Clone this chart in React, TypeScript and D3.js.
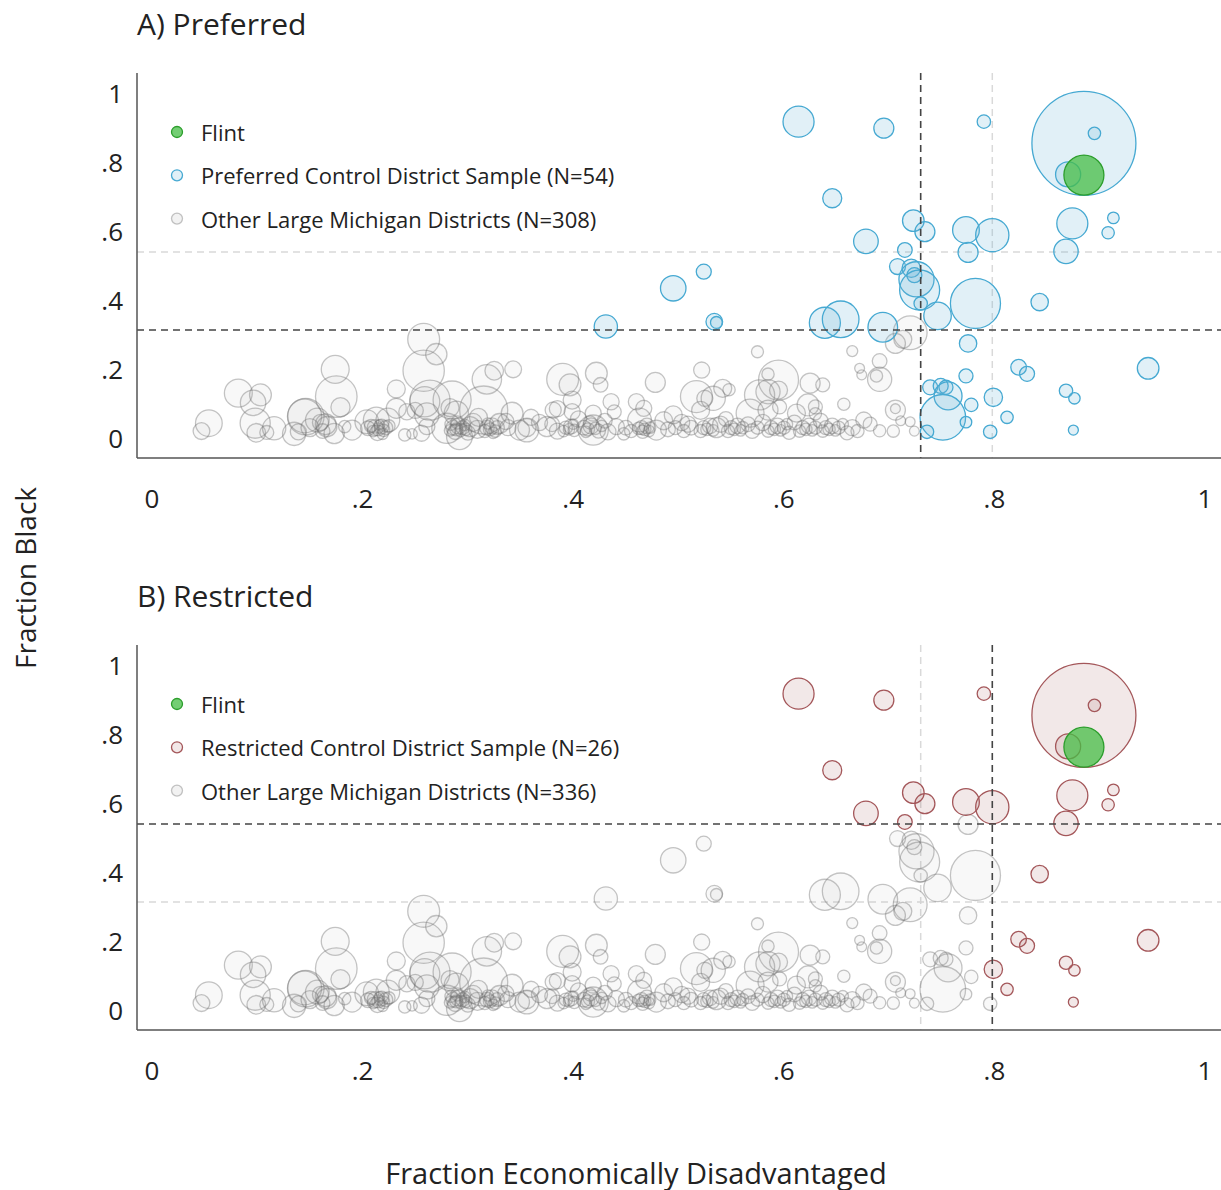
import React from "react";
import * as d3 from "d3";

// [fraction economically disadvantaged, fraction black, enrollment (thousands)]
const flint: [number, number, number][] = [[0.885, 0.762, 7.4]];

// in both the preferred and the restricted control samples (N=26)
const preferredRestricted: [number, number, number][] = [
  [0.614, 0.917, 4.45], [0.695, 0.898, 1.85], [0.79, 0.917, 0.83], [0.885, 0.854, 50],
  [0.895, 0.883, 0.71], [0.87, 0.764, 2.9], [0.646, 0.695, 1.67], [0.723, 0.63, 2.16],
  [0.734, 0.598, 1.85], [0.678, 0.57, 2.8], [0.773, 0.603, 3.3], [0.798, 0.588, 5.1],
  [0.874, 0.622, 4.45], [0.913, 0.638, 0.62], [0.908, 0.595, 0.71], [0.868, 0.541, 2.75],
  [0.715, 0.545, 0.99], [0.843, 0.394, 1.4], [0.823, 0.205, 1.13], [0.831, 0.186, 1.04],
  [0.946, 0.202, 2.16], [0.799, 0.118, 1.56], [0.812, 0.06, 0.71], [0.868, 0.137, 0.83],
  [0.876, 0.115, 0.6], [0.875, 0.023, 0.46],
];

// in the preferred sample only (gray in the restricted panel)
const preferredOnly: [number, number, number][] = [
  [0.775, 0.538, 1.85], [0.524, 0.482, 1.04], [0.495, 0.434, 3.0], [0.708, 0.497, 1.18],
  [0.721, 0.492, 1.56], [0.726, 0.46, 5.7], [0.724, 0.472, 1.04], [0.729, 0.429, 7.4],
  [0.73, 0.39, 0.83], [0.746, 0.354, 3.5], [0.782, 0.39, 11.6], [0.431, 0.323, 2.5],
  [0.534, 0.337, 1.28], [0.536, 0.335, 0.65], [0.639, 0.334, 4.45], [0.654, 0.344, 6.2],
  [0.694, 0.321, 4.06], [0.775, 0.274, 1.4], [0.773, 0.18, 0.91], [0.739, 0.147, 1.04],
  [0.749, 0.151, 1.04], [0.754, 0.147, 0.91], [0.756, 0.122, 3.6], [0.751, 0.06, 9.6],
  [0.778, 0.096, 0.83], [0.773, 0.046, 0.62], [0.796, 0.018, 0.83], [0.736, 0.018, 0.83],
];

// other large Michigan districts
const otherDistricts: [number, number, number][] = [
  [0.054, 0.043, 3.3], [0.047, 0.02, 1.3], [0.082, 0.13, 3.6], [0.103, 0.125, 2.2],
  [0.096, 0.102, 3.0], [0.098, 0.043, 4.2], [0.099, 0.015, 1.6], [0.109, 0.016, 0.9],
  [0.116, 0.028, 2.5], [0.135, 0.012, 2.5], [0.139, 0.018, 1.2], [0.146, 0.062, 6.2],
  [0.145, 0.064, 5.3], [0.166, 0.033, 1.9], [0.173, 0.013, 1.9], [0.15, 0.03, 1.5],
  [0.16, 0.045, 1.2], [0.162, 0.02, 1.0], [0.157, 0.052, 2.6], [0.165, 0.04, 2.0],
  [0.174, 0.199, 3.6], [0.175, 0.12, 8.0], [0.179, 0.089, 1.7], [0.183, 0.033, 0.7],
  [0.19, 0.023, 1.85], [0.204, 0.047, 2.6], [0.213, 0.052, 3.1], [0.224, 0.052, 2.6],
  [0.212, 0.03, 1.2], [0.215, 0.025, 0.8], [0.218, 0.033, 1.0], [0.21, 0.02, 0.6],
  [0.22, 0.022, 0.7], [0.216, 0.038, 0.5], [0.222, 0.03, 0.9], [0.208, 0.035, 0.8],
  [0.214, 0.015, 1.1], [0.219, 0.012, 0.6], [0.225, 0.035, 0.7], [0.205, 0.028, 1.0],
  [0.232, 0.142, 1.5], [0.232, 0.086, 1.85], [0.242, 0.076, 1.2], [0.24, 0.009, 0.7],
  [0.247, 0.012, 0.5], [0.256, 0.014, 1.2], [0.261, 0.033, 1.2], [0.258, 0.286, 4.7],
  [0.27, 0.243, 2.1], [0.258, 0.195, 7.9], [0.264, 0.11, 7.4], [0.259, 0.105, 4.2],
  [0.285, 0.11, 6.7], [0.261, 0.067, 2.7], [0.28, 0.028, 4.2], [0.286, 0.03, 1.0],
  [0.289, 0.025, 0.8], [0.291, 0.035, 1.2], [0.293, 0.02, 0.6], [0.284, 0.04, 0.7],
  [0.295, 0.03, 0.9], [0.288, 0.018, 1.1], [0.297, 0.038, 0.6], [0.29, 0.045, 0.8],
  [0.283, 0.022, 0.6], [0.298, 0.025, 0.7], [0.292, 0.004, 3.1], [0.289, 0.072, 2.7],
  [0.302, 0.033, 1.85], [0.309, 0.025, 1.5], [0.315, 0.081, 10.7], [0.318, 0.17, 4.0],
  [0.325, 0.195, 1.6], [0.343, 0.199, 1.3], [0.318, 0.03, 1.0], [0.321, 0.025, 0.8],
  [0.323, 0.035, 1.2], [0.326, 0.02, 0.7], [0.319, 0.042, 0.6], [0.328, 0.03, 0.9],
  [0.324, 0.015, 0.6], [0.316, 0.02, 0.8], [0.33, 0.042, 1.85], [0.342, 0.072, 2.2],
  [0.349, 0.023, 1.85], [0.356, 0.03, 1.5], [0.338, 0.03, 1.2], [0.31, 0.06, 1.5],
  [0.3, 0.015, 1.0], [0.25, 0.08, 1.2], [0.283, 0.088, 1.5], [0.305, 0.045, 1.5],
  [0.336, 0.048, 1.2], [0.39, 0.17, 4.7], [0.397, 0.154, 2.2], [0.422, 0.188, 2.2],
  [0.426, 0.154, 1.0], [0.399, 0.11, 1.5], [0.436, 0.105, 1.2], [0.439, 0.076, 0.9],
  [0.381, 0.081, 1.2], [0.385, 0.085, 1.2], [0.399, 0.076, 1.2], [0.419, 0.072, 1.2],
  [0.419, 0.023, 4.2], [0.41, 0.03, 1.0], [0.414, 0.025, 0.8], [0.417, 0.035, 1.2],
  [0.421, 0.028, 0.7], [0.424, 0.02, 0.9], [0.412, 0.018, 0.6], [0.427, 0.035, 0.6],
  [0.416, 0.045, 0.8], [0.393, 0.03, 0.8], [0.396, 0.025, 0.6], [0.398, 0.033, 1.0],
  [0.401, 0.022, 0.7], [0.391, 0.02, 0.6], [0.4, 0.04, 0.5], [0.375, 0.033, 1.85],
  [0.368, 0.045, 1.2], [0.356, 0.023, 2.6], [0.433, 0.018, 1.2], [0.441, 0.033, 1.2],
  [0.448, 0.012, 0.7], [0.46, 0.105, 1.2], [0.467, 0.086, 1.2], [0.478, 0.161, 1.85],
  [0.463, 0.052, 2.6], [0.465, 0.03, 0.9], [0.468, 0.025, 0.7], [0.47, 0.035, 1.1],
  [0.472, 0.02, 0.6], [0.466, 0.018, 0.8], [0.473, 0.03, 0.6], [0.462, 0.028, 0.7],
  [0.479, 0.023, 1.85], [0.486, 0.05, 1.5], [0.495, 0.067, 1.5], [0.503, 0.045, 1.2],
  [0.509, 0.04, 1.2], [0.517, 0.12, 4.7], [0.525, 0.115, 1.2], [0.522, 0.197, 1.2],
  [0.524, 0.03, 0.9], [0.527, 0.025, 0.7], [0.53, 0.035, 1.1], [0.533, 0.022, 0.6],
  [0.521, 0.02, 0.8], [0.536, 0.03, 1.85], [0.521, 0.08, 1.5], [0.38, 0.04, 1.0],
  [0.385, 0.02, 1.2], [0.45, 0.03, 1.0], [0.455, 0.02, 0.8], [0.49, 0.025, 1.0],
  [0.497, 0.03, 0.9], [0.505, 0.02, 0.8], [0.512, 0.03, 1.0], [0.36, 0.06, 1.2],
  [0.405, 0.055, 1.2], [0.43, 0.05, 1.0], [0.575, 0.25, 0.67], [0.665, 0.252, 0.56],
  [0.691, 0.223, 1.0], [0.672, 0.202, 0.45], [0.674, 0.183, 0.45], [0.691, 0.17, 2.7],
  [0.688, 0.18, 0.7], [0.72, 0.305, 5.3], [0.713, 0.286, 1.5], [0.706, 0.274, 1.85],
  [0.595, 0.168, 7.4], [0.585, 0.185, 0.7], [0.577, 0.125, 4.2], [0.585, 0.134, 2.7],
  [0.595, 0.139, 1.5], [0.625, 0.159, 1.85], [0.637, 0.154, 0.9], [0.542, 0.144, 1.5],
  [0.548, 0.14, 0.7], [0.533, 0.115, 2.7], [0.568, 0.072, 3.6], [0.585, 0.081, 1.85],
  [0.596, 0.09, 0.9], [0.612, 0.072, 1.5], [0.623, 0.096, 2.2], [0.63, 0.09, 0.9],
  [0.63, 0.07, 0.7], [0.657, 0.098, 0.7], [0.676, 0.052, 1.2], [0.682, 0.04, 0.9],
  [0.691, 0.021, 0.7], [0.704, 0.02, 0.7], [0.706, 0.081, 1.85], [0.706, 0.085, 0.45],
  [0.711, 0.05, 0.45], [0.72, 0.047, 0.45], [0.724, 0.02, 0.45], [0.55, 0.03, 0.9],
  [0.553, 0.025, 0.7], [0.556, 0.035, 1.1], [0.559, 0.022, 0.6], [0.547, 0.02, 0.8],
  [0.561, 0.03, 0.7], [0.566, 0.04, 1.0], [0.588, 0.03, 0.9], [0.591, 0.025, 0.7],
  [0.594, 0.035, 1.1], [0.597, 0.022, 0.6], [0.6, 0.03, 0.8], [0.585, 0.02, 0.7],
  [0.603, 0.04, 0.6], [0.618, 0.03, 0.9], [0.621, 0.025, 0.7], [0.624, 0.035, 1.1],
  [0.627, 0.022, 0.6], [0.63, 0.03, 0.8], [0.615, 0.02, 0.7], [0.64, 0.03, 0.9],
  [0.643, 0.025, 0.7], [0.646, 0.035, 1.1], [0.649, 0.022, 0.6], [0.652, 0.03, 0.8],
  [0.637, 0.02, 0.7], [0.656, 0.04, 0.6], [0.665, 0.03, 1.2], [0.67, 0.02, 0.8],
  [0.66, 0.015, 0.9], [0.58, 0.045, 1.2], [0.61, 0.045, 1.0], [0.635, 0.05, 1.0],
  [0.57, 0.02, 1.0], [0.575, 0.03, 0.8], [0.605, 0.015, 0.8], [0.54, 0.04, 1.2],
  [0.545, 0.055, 1.0],
];

const xTicks = [0, 0.2, 0.4, 0.6, 0.8, 1];
const yTicks = [0, 0.2, 0.4, 0.6, 0.8, 1];
const tickLabel = (v: number) => (v === 0 ? "0" : v === 1 ? "1" : "." + Math.round(v * 10));

const preferredCut = { x: 0.73, y: 0.313 };
const restrictedCut = { x: 0.798, y: 0.539 };

const FONT = "'Open Sans', Lato, sans-serif";
const FW = 400;
const W = 1221;
const H = 1190;

const x = d3.scaleLinear().domain([0, 1]).range([152, 1205]);
const r = d3.scaleSqrt().domain([0, 50]).range([0, 52]);

const grayStyle = { fill: "rgba(150,150,150,0.07)", stroke: "rgba(110,110,110,0.4)" };
const blueStyle = { fill: "rgba(105,180,215,0.2)", stroke: "#46a9d2" };
const redStyle = { fill: "rgba(160,90,90,0.14)", stroke: "#a4575a" };
const greenStyle = { fill: "rgba(70,190,70,0.75)", stroke: "#2c9e2c" };

type Pt = [number, number, number];

function Panel(props: {
  top: number;
  title: string;
  gray: Pt[];
  colored: Pt[];
  colStyle: { fill: string; stroke: string };
  cut: { x: number; y: number };
  other: { x: number; y: number };
  legend: string[];
}) {
  const { top, title, gray, colored, colStyle, cut, other, legend } = props;
  const y = d3.scaleLinear().domain([0, 1]).range([top + 438, top + 93]);
  const plotTop = top + 73;
  const plotBottom = top + 458;
  const left = 137;
  const right = W;
  const circles = (pts: Pt[], st: { fill: string; stroke: string }, key: string, sw = 1.3) =>
    pts.map((d, i) => (
      <circle key={key + i} cx={x(d[0])} cy={y(d[1])} r={r(d[2])} fill={st.fill} stroke={st.stroke} strokeWidth={sw} />
    ));
  const txt = { fill: "#222", fontFamily: FONT, fontWeight: FW };
  return (
    <g>
      <text x={137} y={top + 23} dominantBaseline="central" fontSize={30} {...txt}>{title}</text>
      {/* reference lines of the other sample */}
      <line x1={x(other.x)} x2={x(other.x)} y1={plotTop} y2={plotBottom} stroke="#d9d9d9" strokeWidth={1.5} strokeDasharray="7,5" />
      <line x1={left} x2={right} y1={y(other.y)} y2={y(other.y)} stroke="#d9d9d9" strokeWidth={1.5} strokeDasharray="7,5" />
      {circles(gray, grayStyle, "g")}
      {circles(colored, colStyle, "c")}
      {circles(flint, greenStyle, "f")}
      <line x1={x(cut.x)} x2={x(cut.x)} y1={plotTop} y2={plotBottom} stroke="#444" strokeWidth={1.6} strokeDasharray="7,5" />
      <line x1={left} x2={right} y1={y(cut.y)} y2={y(cut.y)} stroke="#444" strokeWidth={1.6} strokeDasharray="7,5" />
      {/* axes */}
      <line x1={left} x2={left} y1={plotTop} y2={plotBottom} stroke="#555" strokeWidth={1.5} />
      <line x1={left} x2={right} y1={plotBottom} y2={plotBottom} stroke="#555" strokeWidth={1.5} />
      {yTicks.map((t) => (
        <text key={"y" + t} x={123} y={y(t)} textAnchor="end" dominantBaseline="central" fontSize={26} {...txt}>{tickLabel(t)}</text>
      ))}
      {xTicks.map((t) => (
        <text key={"x" + t} x={x(t)} y={top + 498} textAnchor="middle" dominantBaseline="central" fontSize={26} {...txt}>{tickLabel(t)}</text>
      ))}
      {/* legend */}
      {[greenStyle, colStyle, grayStyle].map((st, i) => (
        <g key={"l" + i}>
          <circle cx={177} cy={top + 132 + i * 43.3} r={5.5} fill={i === 2 ? "rgba(150,150,150,0.12)" : st.fill} stroke={st.stroke} strokeWidth={1.3} />
          <text x={201} y={top + 132 + i * 43.3} dominantBaseline="central" fontSize={22} {...txt}>{legend[i]}</text>
        </g>
      ))}
    </g>
  );
}

export default function App() {
  const preferred = [...preferredOnly, ...preferredRestricted];
  const grayB = [...otherDistricts, ...preferredOnly];
  return (
    <svg width={W} height={H} style={{ position: "absolute", left: 0, top: 0, background: "#fff" }}>
      <rect width={W} height={H} fill="#fff" />
      <Panel
        top={0}
        title="A) Preferred"
        gray={otherDistricts}
        colored={preferred}
        colStyle={blueStyle}
        cut={preferredCut}
        other={restrictedCut}
        legend={["Flint", `Preferred Control District Sample (N=${preferred.length})`, "Other Large Michigan Districts (N=308)"]}
      />
      <Panel
        top={572}
        title="B) Restricted"
        gray={grayB}
        colored={preferredRestricted}
        colStyle={redStyle}
        cut={restrictedCut}
        other={preferredCut}
        legend={["Flint", `Restricted Control District Sample (N=${preferredRestricted.length})`, "Other Large Michigan Districts (N=336)"]}
      />
      <text x={25} y={578} transform="rotate(-90 25 578)" textAnchor="middle" dominantBaseline="central" fontSize={28} fill="#222" fontFamily={FONT} fontWeight={FW}>Fraction Black</text>
      <text x={636} y={1172} textAnchor="middle" dominantBaseline="central" fontSize={29} fill="#222" fontFamily={FONT} fontWeight={FW}>Fraction Economically Disadvantaged</text>
    </svg>
  );
}
